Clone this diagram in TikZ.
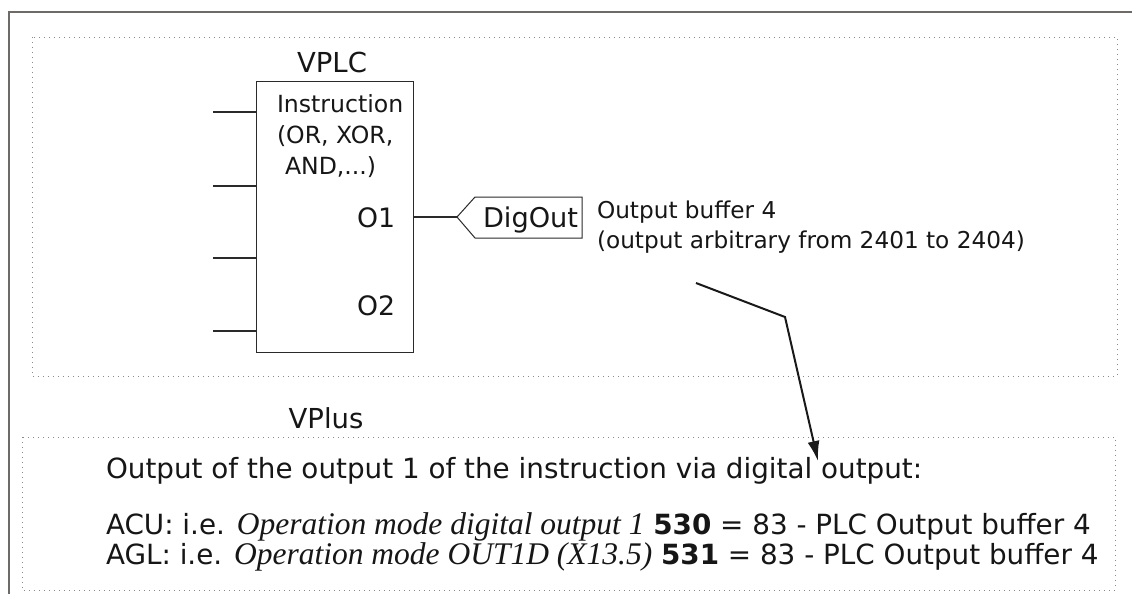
\documentclass[tikz,border=0pt]{standalone}
\usepackage{fontspec}
\setmainfont{DejaVu Sans}
\newfontfamily\timesit{Liberation Serif}
\usetikzlibrary{arrows.meta}
\definecolor{txt}{HTML}{161616}
\definecolor{framec}{HTML}{6E6A68}
\definecolor{dotc}{HTML}{8A8A8A}
\definecolor{linec}{HTML}{2A2A2A}
\newcommand{\fs}[1]{\fontsize{#1}{#1}\selectfont}
\begin{document}
\begin{tikzpicture}[x=1pt,y=-1pt,
  lbl/.style={inner sep=0pt, outer sep=0pt, text=txt},
  dotbox/.style={draw=dotc, line width=0.9pt, dash pattern=on 0.9pt off 4.1pt},
  framestyle/.style={draw=framec, line width=2pt},
  pin/.style={draw=linec, line width=2pt},
  boxline/.style={draw=linec, line width=1.1pt},
  arrowline/.style={draw=black!90, line width=2pt, -{Latex[length=20pt,width=12pt]}}
]
\useasboundingbox (0,0) rectangle (1132,594);
\fill[white] (0,0) rectangle (1132,594);
% outer frame
\draw[framestyle] (9,600) -- (9,12) -- (1140,12);
% dotted regions
\draw[dotbox] (32,37) rectangle (1117,376);
\draw[dotbox] (22,437) rectangle (1115,590);
% VPLC block
\node[boxline, draw, fill=white, minimum width=157pt, minimum height=271pt, anchor=north west, inner sep=0pt] (plc) at (256,81) {};
\node[lbl, anchor=base] (vplc) at (332,72) {\fs{27.5}VPLC};
\node[lbl, anchor=base west] (ins1) at (277,112) {\fs{23.6}Instruction};
\node[lbl, anchor=base west] (ins2) at (277,143) {\fs{23.6}(OR, XOR,};
\node[lbl, anchor=base west] (ins3) at (285,174) {\fs{23.6}AND,...)};
\node[lbl, anchor=base west] (o1) at (357,227) {\fs{26.7}O1};
\node[lbl, anchor=base west] (o2) at (357,315) {\fs{26.7}O2};
% input pins
\foreach \yy/\nm in {112/ia,186/ib,258/ic,331/id}{
  \coordinate (\nm) at (213,\yy);
  \draw[pin] (\nm) -- (\nm -| plc.west);
}
% DigOut
\coordinate (dgtip) at (457,217);
\draw[boxline, line width=1pt] (dgtip) -- (475,197) -- (582,197) -- (582,238) -- (475,238) -- cycle;
\node[lbl, anchor=base west] (dig) at (483,227) {\fs{27.2}DigOut};
\draw[pin] (plc.east |- dgtip) -- (dgtip);
\node[lbl, anchor=base west] (ob1) at (597,218) {\fs{23.2}Output buffer 4};
\node[lbl, anchor=base west] (ob2) at (597,248) {\fs{23.2}(output arbitrary from 2401 to 2404)};
% VPlus
\node[lbl, anchor=base] (vplus) at (326,428) {\fs{27.5}VPlus};
\node[lbl, anchor=base west] (l1) at (106,478) {\fs{27.8}Output of the output 1 of the instruction via digital output:};
\node[lbl, anchor=base west] (l2) at (106,534) {\fs{27.8}ACU: i.e. {\fs{31.5}\timesit\itshape Operation mode digital output 1} \textbf{530} = 83 - PLC Output buffer 4};
\node[lbl, anchor=base west] (l3) at (106,564) {\fs{27.8}AGL: i.e. {\fs{31.5}\timesit\itshape Operation mode OUT1D (X13.5)} \textbf{531} = 83 - PLC Output buffer 4};
% arrow
\coordinate (as) at (696,283);
\coordinate (ab) at (785,317);
\coordinate (at) at (818,461);
\draw[arrowline, line join=miter] (as) -- (ab) -- (at);
\end{tikzpicture}
\end{document}
